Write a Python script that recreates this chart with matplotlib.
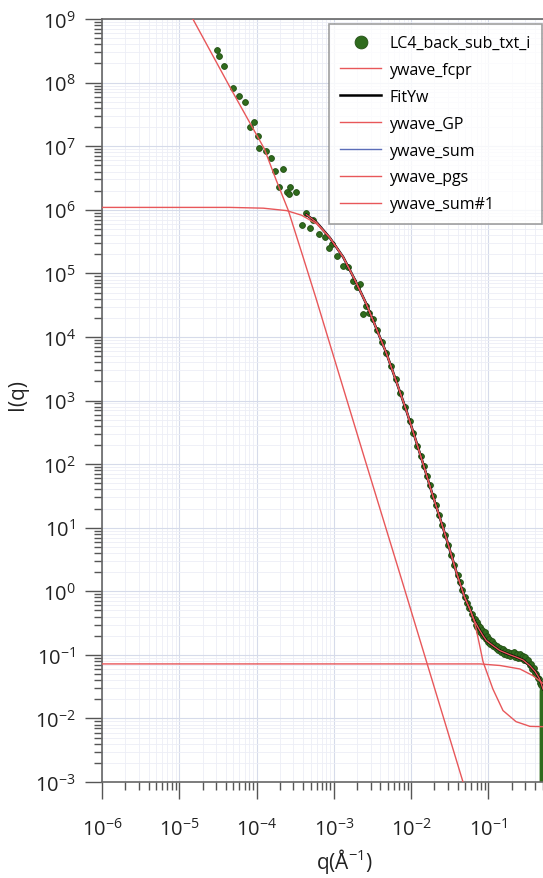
import numpy as np
import matplotlib.pyplot as plt
from matplotlib.ticker import LogLocator, FuncFormatter, NullFormatter

plt.rcParams['font.family'] = ['Open Sans', 'DejaVu Sans']
plt.rcParams['mathtext.fontset'] = 'custom'
plt.rcParams['mathtext.rm'] = 'Open Sans'
plt.rcParams['mathtext.it'] = 'Open Sans:italic'

# measured data LC4_back_sub_txt_i (q in 1/A, I)
low_q = [3.05e-5, 3.29e-5, 3.82e-5, 4.91e-5, 5.97e-5, 7.08e-5, 8.22e-5, 9.25e-5,
         1.03e-4, 1.08e-4, 1.31e-4, 1.53e-4, 1.75e-4, 2.18e-4, 1.97e-4, 2.73e-4,
         2.45e-4, 2.65e-4, 3.24e-4, 4.36e-4, 5.41e-4, 3.82e-4, 4.91e-4, 6.48e-4,
         7.60e-4, 9.53e-4, 8.71e-4, 1.09e-3, 1.32e-3, 1.52e-3, 1.78e-3, 2.18e-3,
         1.97e-3, 2.60e-3, 2.40e-3, 2.87e-3]
low_I = [3.29e8, 2.65e8, 1.84e8, 8.3e7, 6.1e7, 5.0e7, 1.98e7, 2.38e7,
         1.43e7, 9.3e6, 8.5e6, 6.5e6, 4.1e6, 4.4e6, 2.3e6, 2.3e6,
         1.88e6, 1.75e6, 1.93e6, 8.8e5, 7.0e5, 5.8e5, 5.2e5, 4.1e5,
         3.7e5, 2.9e5, 2.5e5, 1.9e5, 1.32e5, 1.26e5, 7.6e4, 6.8e4,
         6.2e4, 3.1e4, 2.3e4, 2.4e4]
mid_q = [3.16e-3, 3.63e-3, 4.17e-3, 4.79e-3, 5.50e-3, 6.31e-3, 7.24e-3, 8.32e-3,
         9.55e-3, 0.0107, 0.0120, 0.0132, 0.0145, 0.0158, 0.0174, 0.0191,
         0.0209, 0.0229, 0.0251, 0.0275, 0.0302, 0.0331, 0.0363, 0.0398,
         0.0427, 0.0457, 0.0490, 0.0525, 0.0562, 0.0603, 0.0646]
mid_I = [1.95e4, 1.29e4, 8.3e3, 5.5e3, 3.47e3, 2.19e3, 1.32e3, 794,
         479, 309, 195, 135, 95, 66, 47, 32,
         23, 15.8, 11, 7.8, 5.4, 3.7, 2.6, 1.82,
         1.38, 1.05, 0.81, 0.66, 0.54, 0.44, 0.37]
high_q = [0.066, 0.068, 0.070, 0.072, 0.074, 0.076, 0.078, 0.080, 0.083, 0.086,
          0.089, 0.092, 0.095, 0.098, 0.102, 0.106, 0.110, 0.114, 0.119, 0.124,
          0.129, 0.134, 0.140, 0.146, 0.152, 0.158, 0.165, 0.172, 0.180, 0.188,
          0.196, 0.205, 0.214, 0.223, 0.233, 0.243, 0.254, 0.265, 0.276, 0.288,
          0.300, 0.313, 0.326, 0.340, 0.354, 0.369, 0.384, 0.400, 0.416, 0.432,
          0.448, 0.464, 0.478]
high_I = [0.36, 0.30, 0.33, 0.27, 0.29, 0.24, 0.27, 0.22, 0.25, 0.20,
          0.23, 0.18, 0.20, 0.16, 0.18, 0.15, 0.165, 0.14, 0.15, 0.13,
          0.14, 0.12, 0.13, 0.11, 0.125, 0.105, 0.115, 0.10, 0.11, 0.095,
          0.108, 0.098, 0.11, 0.093, 0.105, 0.09, 0.102, 0.088, 0.097, 0.084,
          0.092, 0.080, 0.083, 0.070, 0.073, 0.060, 0.062, 0.052, 0.050, 0.043,
          0.042, 0.036, 0.033]
# last points drop off the bottom of the plot
tail_q = [0.476, 0.481]
tail_top = [0.034, 0.028]
tail_bot = [1e-4, 1e-4]

# model waves
fcpr_q = [1.2e-5, 1.5e-5, 4.57e-5, 1.26e-4, 1.78e-4, 2.57e-4, 3.89e-4, 5.89e-4,
          8.91e-4, 2.51e-3, 7.16e-3, 0.0468, 0.055]
fcpr_I = [1.6e9, 1.0e9, 8.3e7, 9.1e6, 3.0e6, 9.8e5, 2.0e5, 4.0e4,
          7.6e3, 1.2e2, 1.86, 1.0e-3, 5.2e-4]
gp_q = [1e-6, 4.5e-5, 1.22e-4, 2.45e-4, 3.83e-4, 6.0e-4, 8.9e-4, 1.32e-3,
        1.86e-3, 2.63e-3, 3.55e-3, 4.79e-3, 6.46e-3, 8.71e-3, 0.0112, 0.0145,
        0.0186, 0.0234, 0.0302, 0.0389, 0.0490, 0.0575, 0.066, 0.076,
        0.085, 0.114, 0.154, 0.227, 0.344, 0.55]
gp_I = [1.09e6, 1.09e6, 1.06e6, 9.7e5, 8.2e5, 6.0e5, 3.6e5, 1.8e5,
        8.0e4, 3.3e4, 1.35e4, 5.5e3, 1.95e3, 680, 260, 95,
        35, 14.5, 5.4, 1.9, 0.81, 0.52, 0.33, 0.15,
        0.078, 0.029, 0.0133, 0.0089, 0.0075, 0.0074]
pgs_q = [1e-6, 0.078, 0.141, 0.255, 0.376, 0.55]
pgs_I = [0.072, 0.072, 0.068, 0.060, 0.047, 0.033]
fit_q = [4.4e-4, 6.0e-4, 8.9e-4, 1.32e-3, 1.86e-3, 2.63e-3, 3.55e-3, 4.79e-3,
         6.46e-3, 8.71e-3, 0.0112, 0.0145, 0.0186, 0.0234, 0.0302, 0.0389,
         0.0490, 0.0575, 0.066, 0.076, 0.085, 0.0936, 0.114, 0.140,
         0.19, 0.229, 0.28, 0.341, 0.40, 0.458, 0.507]
fit_I = [8.4e5, 6.3e5, 3.6e5, 1.8e5, 8.0e4, 3.3e4, 1.35e4, 5.5e3,
         1.95e3, 680, 260, 95, 35, 14.5, 5.4, 1.9,
         0.81, 0.52, 0.34, 0.25, 0.20, 0.168, 0.14, 0.117,
         0.10, 0.092, 0.083, 0.068, 0.055, 0.042, 0.029]

red = '#e8575a'
green = '#2f6b1d'

fig = plt.figure(figsize=(5.43, 8.79), dpi=100)
ax = fig.add_axes([0.1878, 0.1092, 0.8122, 0.868])

ax.plot(low_q + mid_q + high_q, low_I + mid_I + high_I, 'o', color=green,
        mec='#234f15', ms=4.2, mew=0.6, label='LC4_back_sub_txt_i', zorder=2)
ax.vlines(tail_q, tail_bot, tail_top, color=green, lw=2.5, zorder=2)
ax.plot(fcpr_q, fcpr_I, color=red, lw=1, label='ywave_fcpr', zorder=3)
ax.plot(fit_q, fit_I, color='black', lw=1.8, label='FitYw', zorder=3)
ax.plot(gp_q, gp_I, color=red, lw=1, label='ywave_GP', zorder=4)
ax.plot(fit_q, fit_I, color='#5b6db8', lw=1, label='ywave_sum', zorder=1)
ax.plot(pgs_q, pgs_I, color=red, lw=1, label='ywave_pgs', zorder=3)
ax.plot(fit_q, fit_I, color=red, lw=1, label='ywave_sum#1', zorder=4)

ax.set_xscale('log')
ax.set_yscale('log')
ax.set_xlim(1e-6, 0.507)
ax.set_ylim(1e-3, 1e9)

ax.xaxis.set_major_locator(LogLocator(base=10, numticks=20))
ax.yaxis.set_major_locator(LogLocator(base=10, numticks=20))
ax.xaxis.set_minor_locator(LogLocator(base=10, subs=np.arange(2, 10), numticks=20))
ax.yaxis.set_minor_locator(LogLocator(base=10, subs=np.arange(2, 10), numticks=20))
fmt = FuncFormatter(lambda v, p: r'$\mathregular{10^{%d}}$' % round(np.log10(v)))
ax.xaxis.set_major_formatter(fmt)
ax.yaxis.set_major_formatter(fmt)
ax.xaxis.set_minor_formatter(NullFormatter())
ax.yaxis.set_minor_formatter(NullFormatter())

ax.tick_params(which='major', direction='out', length=12, width=1, color='#555555',
               labelsize=14.5, labelcolor='#222222')
ax.tick_params(which='minor', direction='out', length=6, width=1, color='#555555')
ax.tick_params(axis='x', which='major', pad=14)
ax.tick_params(axis='y', which='major', pad=7)

ax.grid(which='major', color='#d6dbea', lw=0.8)
ax.grid(which='minor', color='#eceef6', lw=0.6)
ax.set_axisbelow(True)

for s in ['left', 'bottom', 'top']:
    ax.spines[s].set_color('#666666')
    ax.spines[s].set_linewidth(1.2)
ax.spines['right'].set_visible(False)

fig.text(18 / 543, 1 - 395 / 879, 'I(q)', rotation=90, ha='center', va='center',
         fontsize=15, color='#222222')
fig.text(345 / 543, 1 - 862 / 879, r'q(Å$^{\mathregular{-1}}$)', ha='center',
         va='center', fontsize=15, color='#222222')

leg = ax.legend(loc='upper right', bbox_to_anchor=(542 / 543, 1 - 25 / 879),
                bbox_transform=fig.transFigure, borderaxespad=0, fontsize=11.5,
                frameon=True, fancybox=False, edgecolor='#888888', markerscale=2.2,
                handlelength=2.6, handletextpad=0.5, labelspacing=0.68,
                borderpad=0.7)
leg.get_frame().set_linewidth(1.2)

plt.savefig('out.png', dpi=100)
